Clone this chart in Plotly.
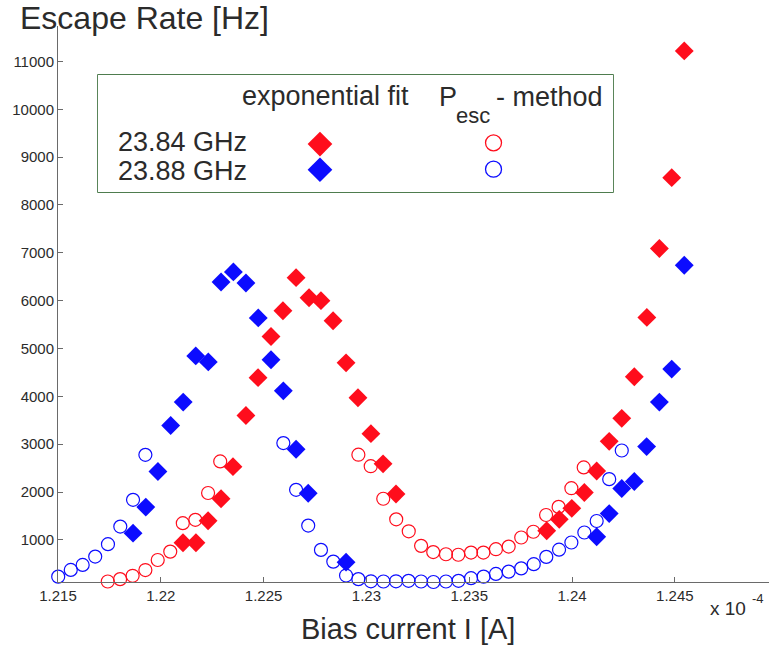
import plotly.graph_objects as go

# Bias current in units of 1e-4 A, escape rate in Hz
red_fit_I = [1.22108, 1.22171, 1.22230, 1.22293, 1.22351, 1.22414, 1.22473, 1.22536,
             1.22594, 1.22658, 1.22721, 1.22779, 1.22838, 1.22901, 1.22959, 1.23022,
             1.23081, 1.23144, 1.23877, 1.23938, 1.23999, 1.24060, 1.24120, 1.24181,
             1.24242, 1.24303, 1.24364, 1.24425, 1.24485, 1.24546]
red_fit_rate = [940, 940, 1400, 1860, 2530, 3600, 4390, 5250, 5790, 6480, 6060, 6000,
                5580, 4700, 3970, 3220, 2590, 1960, 1190, 1430, 1660, 1990, 2440, 3060,
                3540, 4410, 5650, 7090, 8570, 11220]

red_pesc_I = [1.21742, 1.21802, 1.21863, 1.21925, 1.21985, 1.22046, 1.22107, 1.22168,
              1.22230, 1.22289, 1.22961, 1.23021, 1.23082, 1.23145, 1.23206, 1.23266,
              1.23325, 1.23387, 1.23447, 1.23509, 1.23569, 1.23630, 1.23692, 1.23753,
              1.23812, 1.23874, 1.23935, 1.23997, 1.24057]
red_pesc_rate = [130, 180, 250, 370, 580, 755, 1350, 1420, 1980, 2640, 2780, 2540, 1860,
                 1430, 1180, 875, 745, 700, 690, 735, 735, 805, 860, 1050, 1170, 1520,
                 1690, 2080, 2515]

blue_fit_I = [1.21865, 1.21927, 1.21986, 1.22048, 1.22109, 1.22170, 1.22231, 1.22293,
              1.22353, 1.22414, 1.22474, 1.22536, 1.22596, 1.22658, 1.22717, 1.22901,
              1.24120, 1.24181, 1.24242, 1.24303, 1.24363, 1.24425, 1.24485, 1.24546]
blue_fit_rate = [1140, 1685, 2430, 3390, 3880, 4845, 4720, 6390, 6600, 6370, 5640, 4765,
                 4115, 2895, 1975, 535, 1065, 1550, 2075, 2220, 2950, 3880, 4570, 6740]

blue_pesc_I = [1.21501, 1.21562, 1.21620, 1.21681, 1.21743, 1.21803, 1.21865, 1.21925,
               1.22596, 1.22658, 1.22717, 1.22779, 1.22839, 1.22901, 1.22961, 1.23022,
               1.23083, 1.23144, 1.23205, 1.23266, 1.23326, 1.23387, 1.23448, 1.23509,
               1.23570, 1.23630, 1.23692, 1.23753, 1.23814, 1.23875, 1.23937, 1.23997,
               1.24060, 1.24120, 1.24181, 1.24242]
blue_pesc_rate = [232, 372, 477, 651, 910, 1278, 1837, 2778, 3023, 2046, 1299, 791, 546,
                  255, 180, 135, 130, 135, 145, 130, 120, 130, 145, 200, 232, 289, 337,
                  405, 492, 645, 795, 945, 1155, 1395, 2270, 2868]

x_ticks = [1.215, 1.22, 1.225, 1.23, 1.235, 1.24, 1.245]
x_tick_text = ["1.215", "1.22", "1.225", "1.23", "1.235", "1.24", "1.245"]
y_ticks = [1000, 2000, 3000, 4000, 5000, 6000, 7000, 8000, 9000, 10000, 11000]

series_labels = ["23.84 GHz", "23.88 GHz"]

RED = "#ff0d1c"
BLUE = "#0c0cff"
TEXT = "#2b2b2b"
AXIS = "#6a6a6a"
FONT = "Liberation Sans"

W, H = 769, 645
ML, MR, MT, MB = 58, 0, 26, 63
PW, PH = W - ML - MR, H - MT - MB


def px(xp):
    return (xp - ML) / PW


def py(yp):
    return (H - MB - yp) / PH


fig = go.Figure()

# circles (P_esc method) first, diamonds (exponential fit) on top
fig.add_trace(go.Scatter(x=red_pesc_I, y=red_pesc_rate, mode="markers", cliponaxis=False,
                         marker=dict(symbol="circle-open", size=13, color=RED,
                                     line=dict(width=1.2, color=RED))))
fig.add_trace(go.Scatter(x=blue_pesc_I, y=blue_pesc_rate, mode="markers", cliponaxis=False,
                         marker=dict(symbol="circle-open", size=13, color=BLUE,
                                     line=dict(width=1.2, color=BLUE))))
fig.add_trace(go.Scatter(x=red_fit_I, y=red_fit_rate, mode="markers", cliponaxis=False,
                         marker=dict(symbol="diamond", size=14.5, color=RED,
                                     line=dict(width=0))))
fig.add_trace(go.Scatter(x=blue_fit_I, y=blue_fit_rate, mode="markers", cliponaxis=False,
                         marker=dict(symbol="diamond", size=14.5, color=BLUE,
                                     line=dict(width=0))))

# legend table: box spans the x2/y2 domain, keys placed in its unit square
box_x0, box_x1 = px(98), px(613)
box_y0, box_y1 = py(192), py(75)
key_col_fit, key_col_pesc = 0.431, 0.768
key_rows = [0.41, 0.19]
fig.add_trace(go.Scatter(x=[key_col_fit] * 2, y=key_rows, xaxis="x2", yaxis="y2",
                         mode="markers", cliponaxis=False,
                         marker=dict(symbol="diamond", size=19, color=[RED, BLUE],
                                     line=dict(width=0))))
fig.add_trace(go.Scatter(x=[key_col_pesc] * 2, y=[0.42, 0.195], xaxis="x2", yaxis="y2",
                         mode="markers", cliponaxis=False,
                         marker=dict(symbol="circle-open", size=16, color=[RED, BLUE],
                                     line=dict(width=1.3, color=[RED, BLUE]))))

fig.add_shape(type="rect", xref="paper", yref="paper", x0=box_x0, x1=box_x1,
              y0=box_y0, y1=box_y1, line=dict(color="#145214", width=1.4),
              fillcolor="white", layer="below")


def label(text, x, y, size, xanchor="left", color=TEXT):
    fig.add_annotation(text=text, xref="paper", yref="paper", x=px(x), y=py(y),
                       xanchor=xanchor, yanchor="middle", showarrow=False,
                       font=dict(family=FONT, size=size, color=color))


label("exponential fit", 325, 96, 27, xanchor="center")
label("P", 437, 97, 27)
label("esc", 454, 115, 22)
label("- method", 494, 97, 27)
label(series_labels[0], 116, 142, 27)
label(series_labels[1], 116, 171, 27)

label("Escape Rate [Hz]", 18, 18, 32)
label("Bias current I [A]", 408, 629, 29, xanchor="center")
label("x 10", 708, 608, 19)
label("-4", 750, 598, 13)

fig.update_layout(
    width=W, height=H,
    margin=dict(l=ML, r=MR, t=MT, b=MB),
    paper_bgcolor="white", plot_bgcolor="white",
    showlegend=False,
    font=dict(family=FONT, color=TEXT),
    xaxis=dict(range=[1.215, 1.215 + 0.005 * PW / 102.8], showline=True, linecolor=AXIS,
               linewidth=1, ticks="inside", ticklen=5, tickcolor=AXIS,
               tickvals=x_ticks, ticktext=x_tick_text, showgrid=False, zeroline=False,
               tickfont=dict(size=15, color=TEXT, family=FONT)),
    yaxis=dict(range=[120, 11740], showline=True, linecolor=AXIS, linewidth=1,
               ticks="inside", ticklen=5, tickcolor=AXIS, tickvals=y_ticks,
               tickformat="d", showgrid=False, zeroline=False,
               tickfont=dict(size=15, color=TEXT, family=FONT)),
    xaxis2=dict(domain=[box_x0, box_x1], range=[0, 1], visible=False, anchor="y2"),
    yaxis2=dict(domain=[box_y0, box_y1], range=[0, 1], visible=False, anchor="x2"),
)

fig.write_html("out.html")
